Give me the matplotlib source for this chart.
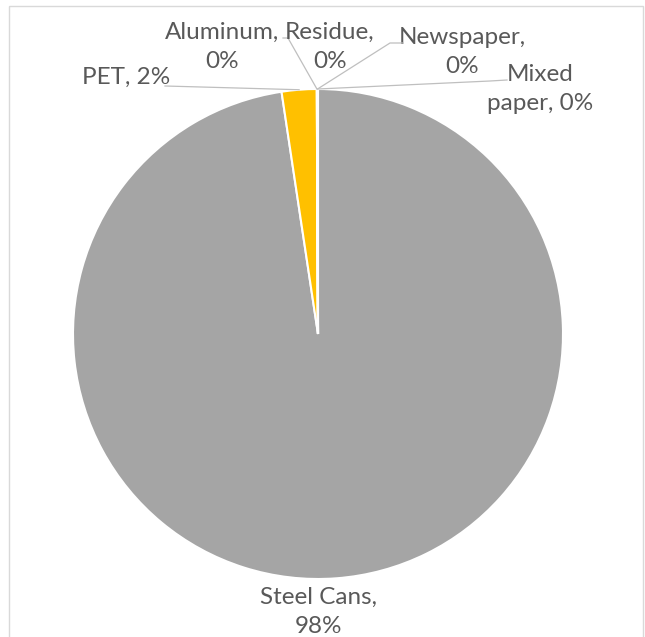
import matplotlib
matplotlib.use('Agg')
import matplotlib.pyplot as plt
import numpy as np
from matplotlib.patches import Rectangle

# ===== Data =====
categories = ['Steel Cans', 'PET', 'Aluminum', 'Residue', 'Newspaper', 'Mixed paper']
shares = [97.7, 2.3, 0.02, 0.02, 0.02, 0.02]
colors = ['#A5A5A5', '#FFC000', '#5B9BD5', '#ED7D31', '#4472C4', '#70AD47']
label_texts = ['Steel Cans,\n98%', 'PET, 2%', 'Aluminum,\n0%', 'Residue,\n0%',
               'Newspaper,\n0%', 'Mixed\npaper, 0%']

# label centres and leader-line elbows in pixel space (y down)
label_pos = [(318, 612), (126, 77), (222, 47), (330, 47), (462, 52), (540, 89)]
elbows = [None, [(165, 86)], [(283, 38), (288, 38)], None,
          [(403, 43), (390, 43)], [(507, 80), (490, 81)]]

TEXT = '#595959'
LINE = '#BFBFBF'

fig = plt.figure(figsize=(6.45, 6.37), dpi=100)
ax = fig.add_axes([0, 0, 1, 1])

cx, cy, r = 318, 334, 245
wedges, _ = ax.pie(shares, colors=colors, startangle=-90, counterclock=True,
                   center=(cx, cy), radius=r, frame=True,
                   wedgeprops=dict(edgecolor='white', linewidth=1.5))
ax.set_xlim(0, 645)
ax.set_ylim(637, 0)  # y runs downward, so counterclockwise in data is clockwise on screen
ax.set_aspect('equal')
ax.axis('off')

for i, (txt, (lx, ly)) in enumerate(zip(label_texts, label_pos)):
    ax.text(lx, ly, txt, ha='center', va='center', fontsize=17.5, color=TEXT,
            family='Lato', linespacing=1.5)
    if elbows[i] is None:
        continue
    w = wedges[i]
    th = np.deg2rad((w.theta1 + w.theta2) / 2)
    px, py = cx + r * np.cos(th), cy + r * np.sin(th)
    xs = [p[0] for p in elbows[i]] + [px]
    ys = [p[1] for p in elbows[i]] + [py]
    ax.plot(xs, ys, color=LINE, lw=0.9, zorder=3)

# chart area border
ax.add_patch(Rectangle((9, 6), 634, 640, fill=False, edgecolor='#D9D9D9', lw=1))

fig.savefig('out.png', dpi=100)
